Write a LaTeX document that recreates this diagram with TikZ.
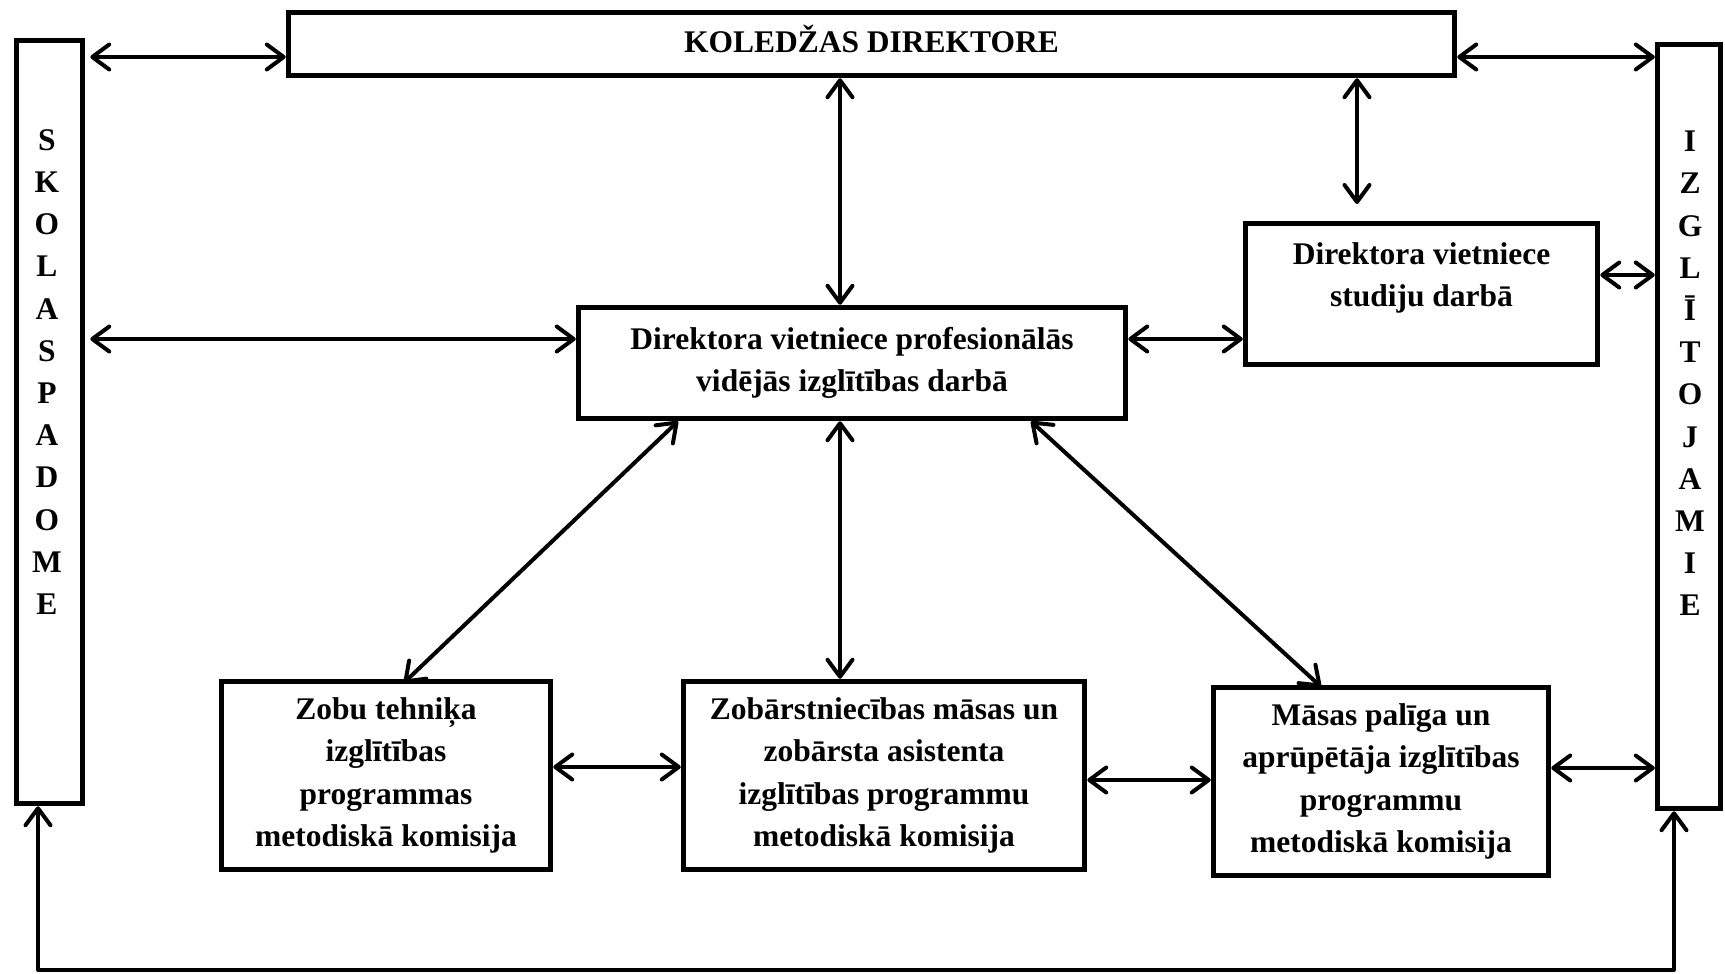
\documentclass[tikz,border=0pt]{standalone}
\usepackage{fontspec}
\setmainfont{Liberation Serif}
\usetikzlibrary{arrows.meta}
\tikzset{
  box/.style={draw, line width=5.5pt, rectangle, inner sep=0pt, align=center,
    font=\fontsize{31.5}{42.3}\selectfont\bfseries},
  txt/.style={inner sep=0pt, align=center, font=\fontsize{31.5}{42.2}\selectfont\bfseries},
  arr/.style={line width=4pt, line cap=round, line join=round,
    {Straight Barb[length=17pt,width=25pt,round]}-{Straight Barb[length=17pt,width=25pt,round]}}
}
\begin{document}
\begin{tikzpicture}[x=1pt,y=-1pt]
\useasboundingbox (0,0) rectangle (1725,974);
% boxes
\node[box, minimum width=1166pt, minimum height=63pt] (tb) at (871.5,44) {};
\node[txt] (tbt) at (871.5,39) {KOLEDŽAS DIREKTORE};
\node[box, minimum width=66pt, minimum height=763pt] (lb) at (49.5,422) {};
\node[txt] (lbt) at (47,372) {S\\K\\O\\L\\A\\S\\P\\A\\D\\O\\M\\E};
\node[box, minimum width=63pt, minimum height=764pt] (rb) at (1689,426.5) {};
\node[txt] (rbt) at (1690,373.5) {I\\Z\\G\\L\\Ī\\T\\O\\J\\A\\M\\I\\E};
\node[box, minimum width=352pt, minimum height=141pt] (sd) at (1421.5,294) {};
\node[txt] (sdt) at (1421.5,278) {Direktora vietniece\\studiju darbā};
\node[box, minimum width=547pt, minimum height=111pt] (cb) at (852,363) {Direktora vietniece profesionālās\\vidējās izglītības darbā};
\node[box, minimum width=329pt, minimum height=188pt] (zt) at (386,775.5) {Zobu tehniķa\\izglītības\\programmas\\metodiskā komisija};
\node[box, minimum width=401pt, minimum height=188pt] (zs) at (884,775.5) {Zobārstniecības māsas un\\zobārsta asistenta\\izglītības programmu\\metodiskā komisija};
\node[box, minimum width=335pt, minimum height=188pt] (mp) at (1381,781.5) {Māsas palīga un\\aprūpētāja izglītības\\programmu\\metodiskā komisija};
% free ends
\coordinate (c4) at (1357,204);
\coordinate (br) at (1674,970);
\coordinate (bl) at (38,970);
% connectors
\draw[arr, shorten <=5pt] (lb.east |- 0,57) -- (tb.west |- 0,57);
\draw[arr] (tb.east |- 0,57) -- (rb.west |- 0,57);
\draw[arr] (tb.south -| 840,0) -- (cb.north -| 840,0);
\draw[arr] (tb.south -| 1357,0) -- (c4);
\draw[arr, shorten <=5pt] (lb.east |- 0,339) -- (cb.west |- 0,339);
\draw[arr] (cb.east |- 0,339) -- (sd.west |- 0,339);
\draw[arr] (sd.east |- 0,275) -- (rb.west |- 0,275);
\draw[arr] (cb.south -| 678,0) -- ([yshift=-4pt]zt.north -| 404,0);
\draw[arr] (cb.south -| 840,0) -- (zs.north -| 840,0);
\draw[arr] (cb.south -| 1031,0) -- ([yshift=-2pt]mp.north -| 1321,0);
\draw[arr] (zt.east |- 0,767) -- (zs.west |- 0,767);
\draw[arr] (zs.east |- 0,780) -- (mp.west |- 0,780);
\draw[arr] (mp.east |- 0,768) -- (rb.west |- 0,768);
\draw[arr] (rb.south -| br) -- (br) -- (bl) -- (lb.south -| bl);
\end{tikzpicture}
\end{document}
